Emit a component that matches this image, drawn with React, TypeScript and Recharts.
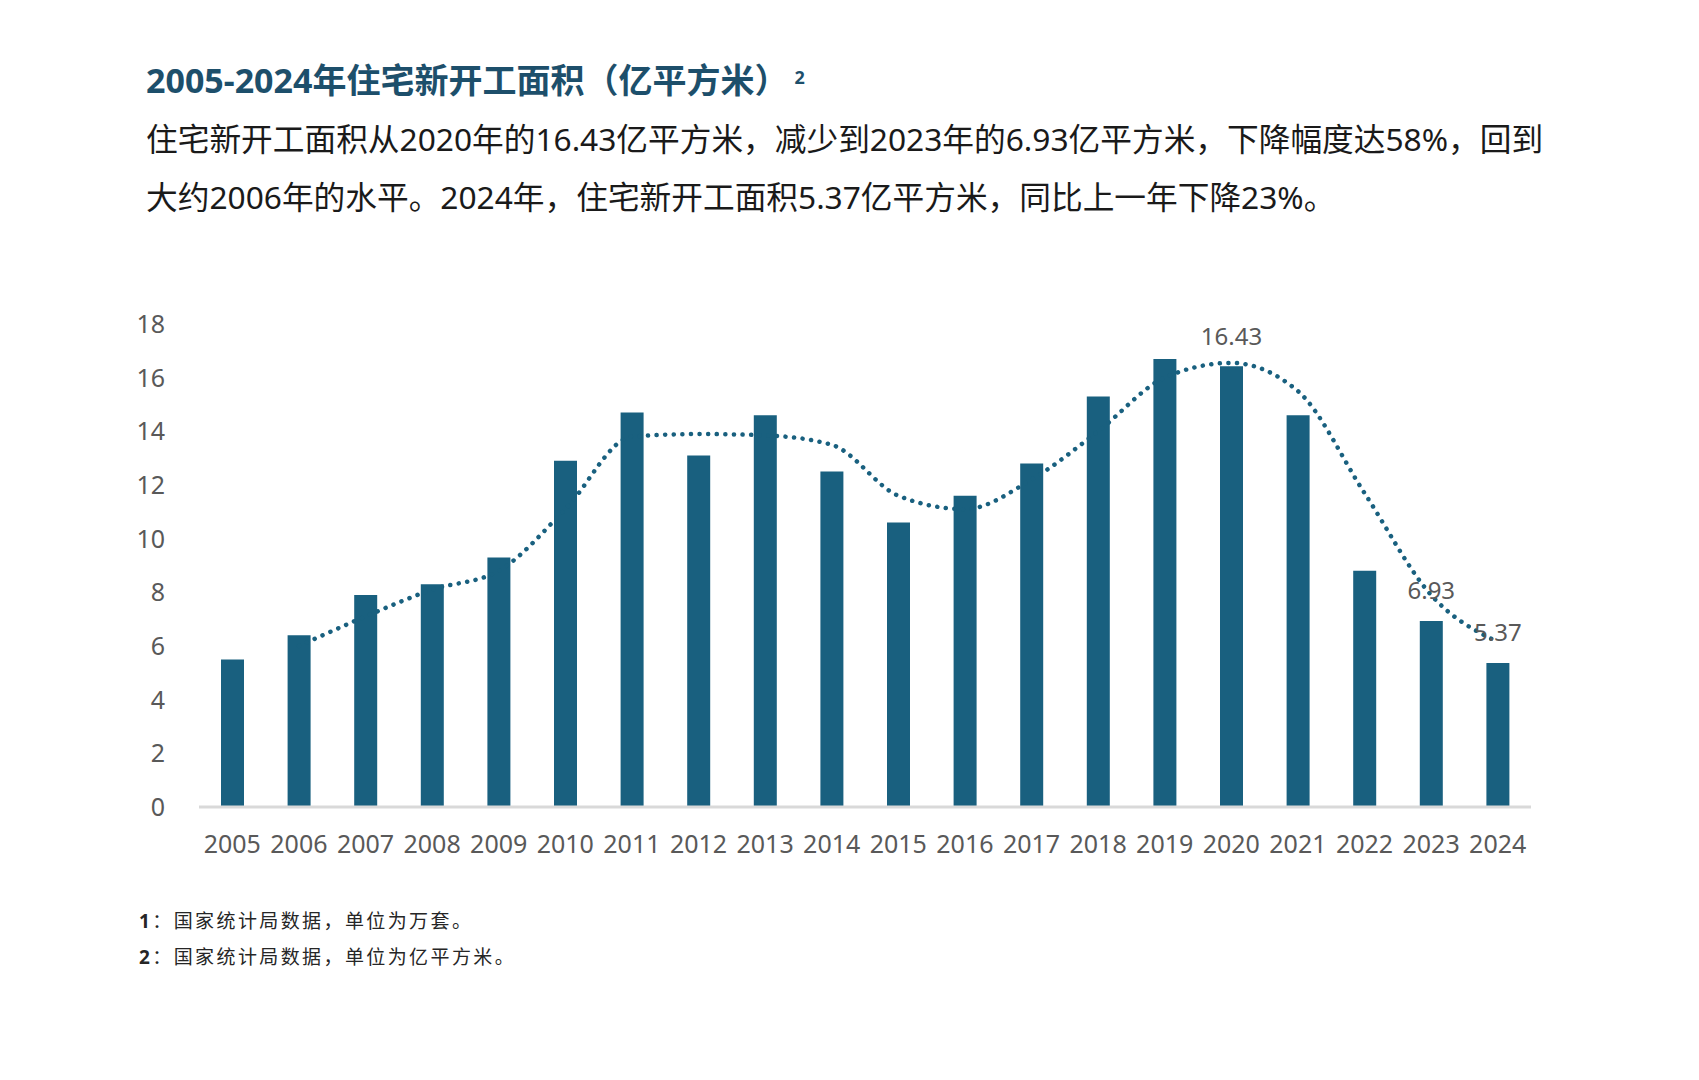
import React from "react";
import { ComposedChart, Bar, Line, XAxis, YAxis, LabelList } from "recharts";

const years = ["2005","2006","2007","2008","2009","2010","2011","2012","2013","2014","2015","2016","2017","2018","2019","2020","2021","2022","2023","2024"];
const starts = [5.5, 6.4, 7.9, 8.3, 9.3, 12.9, 14.7, 13.1, 14.6, 12.5, 10.6, 11.6, 12.8, 15.3, 16.7, 16.43, 14.6, 8.8, 6.93, 5.37];
const trend = [null, 6.0, 7.1, 8.1, 8.8, 11.1, 13.8, 13.9, 13.85, 13.5, 11.6, 11.1, 12.2, 14.0, 16.0, 16.55, 15.5, 11.7, 7.9, 6.15];
const labels = ["", "", "", "", "", "", "", "", "", "", "", "", "", "", "", "16.43", "", "", "6.93", "5.37"];
const yTicks = [0, 2, 4, 6, 8, 10, 12, 14, 16, 18];

const data = years.map((y, i) => ({ year: y, value: starts[i], trend: trend[i], label: labels[i] }));

const BAR = "#19607f";
const TXT = "#595959";
const FONT = '"Noto Sans", "Noto Sans CJK SC", sans-serif';

const renderLabel = (props: any) => {
  const { x, y, width, value } = props;
  if (!value) return null;
  return (
    <text x={x + width / 2} y={y - 30} dy="0.35em" textAnchor="middle" fill={TXT} fontSize={24} fontFamily={FONT}>
      {value}
    </text>
  );
};

export default function App() {
  return (
    <div style={{ position: "absolute", left: 0, top: 0, width: 1699, height: 1080, background: "#fff", fontFamily: FONT }}>
      <div style={{ position: "absolute", left: 146, top: 54, fontSize: 34, fontWeight: 700, color: "#1d4f6b", lineHeight: "46px", whiteSpace: "nowrap" }}>
        2005-2024年住宅新开工面积（亿平方米）<sup style={{ fontSize: 18, marginLeft: 6, verticalAlign: "9px" }}>2</sup>
      </div>
      <div style={{ position: "absolute", left: 146, top: 110, fontSize: 31.7, color: "#1a1a1a", lineHeight: "58px", whiteSpace: "nowrap" }}>
        <div>住宅新开工面积从2020年的16.43亿平方米，减少到2023年的6.93亿平方米，下降幅度达58%，回到</div>
        <div>大约2006年的水平。2024年，住宅新开工面积5.37亿平方米，同比上一年下降23%。</div>
      </div>
      <div style={{ position: "absolute", left: 0, top: 0 }}>
        <ComposedChart width={1699} height={1080} data={data} margin={{ top: 324, right: 168, bottom: 213, left: 139 }}>
          <XAxis
            dataKey="year"
            height={60}
            axisLine={{ stroke: "#d9d9d9", strokeWidth: 3 }}
            tickLine={false}
            tickSize={0}
            tickMargin={28}
            interval={0}
            tick={{ fill: TXT, fontSize: 25, fontFamily: FONT }}
          />
          <YAxis
            width={60}
            domain={[0, 18]}
            ticks={yTicks}
            axisLine={false}
            tickLine={false}
            tickSize={0}
            tickMargin={34}
            tick={{ fill: TXT, fontSize: 25, fontFamily: FONT }}
          />
          <Bar dataKey="value" fill={BAR} barSize={23} isAnimationActive={false}>
            <LabelList dataKey="label" content={renderLabel} />
          </Bar>
          <Line
            dataKey="trend"
            type="monotone"
            stroke={BAR}
            strokeWidth={4.5}
            strokeDasharray="0.1 8.5"
            strokeLinecap="round"
            dot={false}
            activeDot={false}
            isAnimationActive={false}
          />
        </ComposedChart>
      </div>
      <div style={{ position: "absolute", left: 139, top: 903, fontSize: 19, letterSpacing: "2.4px", color: "#262626", lineHeight: "36px", whiteSpace: "nowrap" }}>
        <div><b>1</b>：国家统计局数据，单位为万套。</div>
        <div><b>2</b>：国家统计局数据，单位为亿平方米。</div>
      </div>
    </div>
  );
}
